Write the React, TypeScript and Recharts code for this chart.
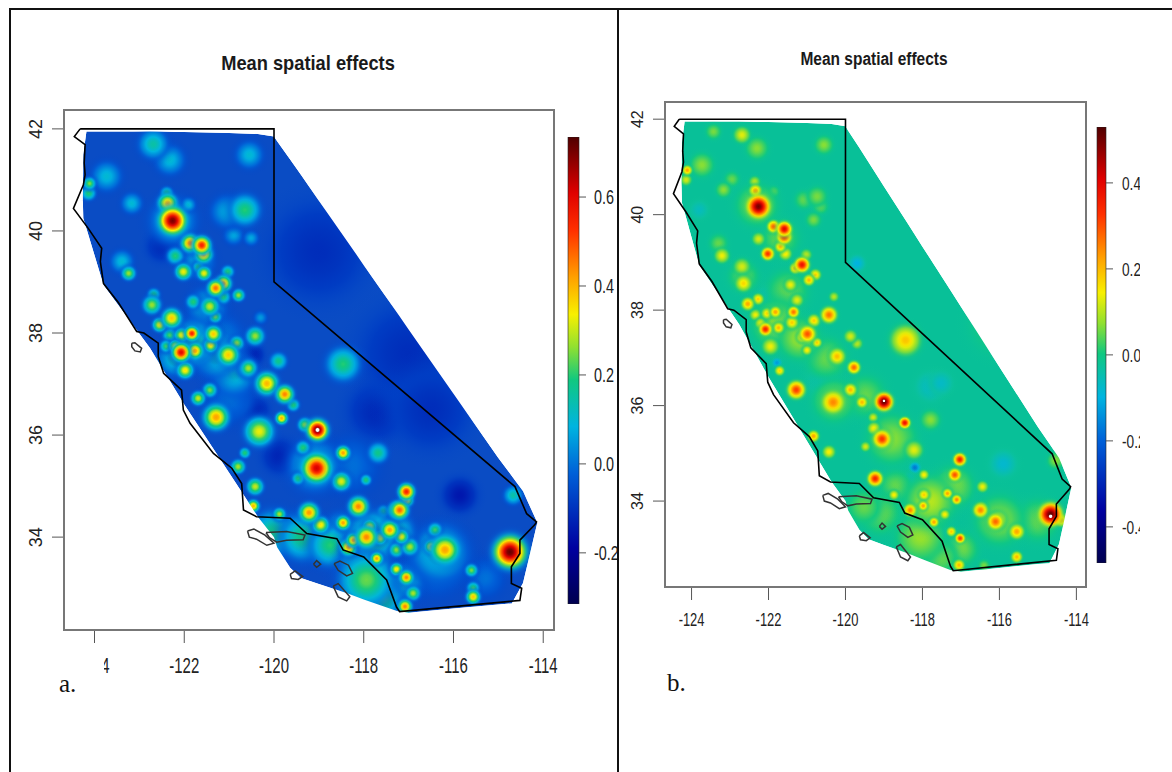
import React from 'react';
import { Area, Bar, ComposedChart, ReferenceArea, Scatter, XAxis, YAxis } from 'recharts';

// longitude, lowest latitude, highest latitude of the modelled mesh
const meshRows = [
  [-124.7, 40.6, 40.6], [-124.26, 40.6, 40.6], [-124.25, 40.25, 41.5], [-124.18, 40.05, 41.95],
  [-123.8, 38.94, 41.95], [-122.76, 37.7, 41.95], [-122, 36.6, 41.94], [-121, 35.26, 41.92],
  [-120.36, 34.4, 41.9], [-120, 34.0, 41.85], [-119.93, 33.8, 41.76], [-119.64, 33.4, 41.4],
  [-119.4, 33.2, 41.1], [-119, 33.08, 40.59], [-118.37, 32.9, 39.8], [-118, 32.78, 39.33],
  [-117.26, 32.55, 38.4], [-117, 32.52, 38.07], [-116, 32.6, 36.81], [-115, 32.68, 35.55],
  [-114.7, 32.7, 35.2], [-114.45, 33.1, 34.9], [-114.14, 34.25, 34.3], [-114.13, 34.27, 34.27],
  [-113.7, 34.27, 34.27],
];

const coastline = [
  [-124.32, 42], [-124.45, 41.85], [-124.21, 41.69], [-124.23, 41.33], [-124.21, 41.1], [-124.25, 40.9],
  [-124.47, 40.44], [-124.14, 40.05], [-123.84, 39.66], [-123.87, 39.4], [-123.8, 38.97], [-123.47, 38.6],
  [-123.06, 38.03], [-122.9, 38], [-122.58, 37.8], [-122.58, 37.54], [-122.46, 37.21], [-122.06, 36.88],
  [-122.02, 36.49], [-121.87, 36.23], [-121.35, 35.64], [-120.94, 35.35], [-120.72, 35.05], [-120.68, 34.53],
  [-120.39, 34.4], [-119.64, 34.37], [-119.27, 34.07], [-118.6, 33.97], [-118.46, 33.75], [-118, 33.61],
  [-117.49, 33.16], [-117.27, 32.63], [-117.2, 32.54], [-114.52, 32.76], [-114.48, 33], [-114.71, 33.09],
  [-114.71, 33.42], [-114.52, 33.68], [-114.52, 33.94], [-114.19, 34.24], [-114.15, 34.3], [-114.37, 34.46],
  [-114.63, 34.99], [-120, 39], [-120, 42], [-124.32, 42],
];

const islands = [
  [[-123.17, 37.8], [-123.1, 37.81], [-122.95, 37.7], [-122.98, 37.63], [-123.1, 37.65], [-123.17, 37.73], [-123.17, 37.8]],
  [[-120.59, 34.12], [-120.45, 34.16], [-120.2, 34.04], [-120, 33.88], [-120.16, 33.84], [-120.39, 33.96], [-120.55, 34], [-120.59, 34.12]],
  [[-120.18, 34.09], [-119.72, 34.11], [-119.31, 34.04], [-119.35, 33.95], [-119.72, 33.94], [-119.94, 33.9], [-120.1, 33.99], [-120.18, 34.09]],
  [[-119.12, 33.47], [-119.05, 33.54], [-118.96, 33.47], [-119.05, 33.41], [-119.12, 33.47]],
  [[-118.66, 33.48], [-118.53, 33.53], [-118.34, 33.45], [-118.25, 33.29], [-118.38, 33.24], [-118.57, 33.35], [-118.66, 33.48]],
  [[-119.64, 33.27], [-119.53, 33.34], [-119.36, 33.23], [-119.46, 33.17], [-119.61, 33.19], [-119.64, 33.27]],
  [[-118.68, 33.04], [-118.57, 33.09], [-118.31, 32.83], [-118.38, 32.75], [-118.57, 32.83], [-118.68, 33.04]],
];

// lon, lat, peak effect, spread in degrees
const effectsA = [
  [-117.7, 36.46, -0.12, 0.6], [-115.86, 34.82, -0.15, 0.35], [-119.87, 35.58, -0.13, 0.35], [-120.46, 37.57, -0.14, 0.2],
  [-120.4, 36.49, -0.13, 0.25], [-117, 37.6, -0.11, 1.0], [-116.5, 36.5, -0.11, 0.8], [-119, 39.6, -0.11, 1.0], [-122.5, 39.7, -0.12, 0.3],
  [-116.4, 33.5, 0.02, 0.7], [-118.3, 35.4, 0, 0.6], [-115.3, 33.2, 0, 0.4], [-121, 36.7, 0, 0.5], [-121.3, 37.8, 0.08, 0.6],
  [-121.8, 37.8, 0.17, 0.5], [-121.3, 37.6, 0.15, 0.5], [-122.2, 37.5, 0.15, 0.35], [-120.9, 37.2, 0.12, 0.45], [-121.5, 38.5, 0.1, 0.4],
  [-117.8, 34, 0.22, 0.55], [-117.3, 34.1, 0.18, 0.4], [-118.5, 34.1, 0.15, 0.4], [-119.1, 35.4, 0.12, 0.55], [-117.1, 33.1, 0.12, 0.4],
  [-116.3, 33.7, 0.15, 0.6], [-121.7, 39.4, 0.07, 0.35], [-122.25, 40.2, 0.1, 0.5],
  [-120.01, 34.07, 0.2, 0.5], [-119.35, 34, 0.2, 0.5], [-118.75, 33.84, 0.2, 0.45], [-117.94, 33.16, 0.24, 0.6], [-117.57, 32.8, 0.23, 0.4], [-118.16, 33.55, 0.2, 0.35],
  [-122.69, 41.7, 0.15, 0.3], [-122.32, 41.39, 0.1, 0.3], [-123.73, 41.07, 0.1, 0.3], [-120.55, 41.49, 0.1, 0.27], [-124.11, 40.93, 0.25, 0.11],
  [-124.13, 40.74, 0.2, 0.13], [-123.17, 40.54, 0.1, 0.2], [-122.37, 40.54, 0.4, 0.2], [-122.39, 40.74, 0.2, 0.11], [-122.26, 40.2, 0.7, 0.3],
  [-121.91, 40.51, 0.1, 0.13], [-120.65, 40.41, 0.2, 0.33], [-121.05, 40.38, 0.08, 0.33], [-121.87, 39.76, 0.45, 0.18], [-121.61, 39.72, 0.55, 0.18],
  [-121.57, 39.55, 0.42, 0.18], [-122.2, 39.51, 0.2, 0.16], [-123.24, 39.17, 0.27, 0.13], [-123.39, 39.4, 0.1, 0.22], [-122.02, 39.2, 0.33, 0.16],
  [-121.56, 39.17, 0.33, 0.13], [-121.68, 39.29, 0.2, 0.11], [-121.03, 39.2, 0.2, 0.11], [-120.9, 39.92, 0.07, 0.18], [-120.51, 39.86, 0.07, 0.13],
  [-121.13, 38.97, 0.42, 0.16], [-121.3, 38.88, 0.47, 0.16], [-120.79, 38.74, 0.27, 0.11], [-121.13, 38.71, 0.2, 0.13], [-121.8, 38.61, 0.2, 0.13],
  [-121.43, 38.52, 0.3, 0.18], [-121.31, 38.32, 0.25, 0.11], [-122.72, 38.55, 0.27, 0.18], [-122.68, 38.75, 0.2, 0.11], [-122.28, 38.29, 0.38, 0.2],
  [-122.55, 38.16, 0.33, 0.13], [-121.83, 37.99, 0.55, 0.13], [-122.06, 37.96, 0.33, 0.13], [-121.35, 37.98, 0.38, 0.16], [-122.32, 37.96, 0.22, 0.13],
  [-121.41, 37.76, 0.35, 0.13], [-122.07, 37.62, 0.6, 0.18], [-121.76, 37.65, 0.42, 0.16], [-122.2, 37.74, 0.35, 0.11], [-122.4, 37.74, 0.22, 0.11],
  [-121.02, 37.57, 0.38, 0.22], [-120.83, 37.8, 0.27, 0.13], [-120.42, 37.94, 0.27, 0.18], [-121.98, 37.27, 0.35, 0.16], [-119.9, 37.45, 0.18, 0.16],
  [-120.6, 37.3, 0.22, 0.18], [-120.3, 38.3, 0.05, 0.11],
  [-120.16, 37.01, 0.4, 0.24], [-119.76, 36.8, 0.45, 0.18], [-120.57, 37.31, 0.28, 0.16], [-121.69, 36.72, 0.3, 0.13], [-121.43, 36.88, 0.25, 0.13],
  [-121.29, 36.35, 0.42, 0.27], [-120.33, 36.07, 0.33, 0.31], [-119.83, 36.33, 0.4, 0.11], [-119.03, 36.1, 0.72, 0.22], [-119.31, 36.2, 0.27, 0.13],
  [-119.57, 36.59, 0.2, 0.11], [-118.46, 37.39, 0.2, 0.36], [-118.46, 35.65, 0.42, 0.13], [-117.68, 35.65, 0.18, 0.2], [-119.05, 35.35, 0.62, 0.31],
  [-119.35, 35.75, 0.2, 0.13], [-118.5, 35.09, 0.32, 0.18], [-119.46, 35.15, 0.2, 0.11], [-117.95, 35.12, 0.2, 0.09], [-120.8, 35.38, 0.28, 0.13],
  [-120.65, 35.65, 0.2, 0.09], [-120.42, 34.99, 0.3, 0.16], [-120.46, 34.61, 0.4, 0.11], [-119.22, 34.48, 0.43, 0.2], [-119.88, 34.45, 0.28, 0.11],
  [-118.96, 34.24, 0.35, 0.16], [-118.12, 34.6, 0.45, 0.2], [-118.46, 34.28, 0.42, 0.13], [-117.94, 34, 0.45, 0.22], [-118.34, 33.8, 0.42, 0.16],
  [-118.23, 33.94, 0.42, 0.13], [-117.42, 34.14, 0.42, 0.18], [-117.71, 33.58, 0.42, 0.11], [-117.27, 34.53, 0.45, 0.16], [-117.64, 33.99, 0.35, 0.13],
  [-117.87, 34.2, 0.36, 0.13], [-117.05, 34.89, 0.55, 0.16], [-117.2, 34.53, 0.48, 0.18], [-117.05, 34.73, 0.4, 0.13], [-116.19, 33.75, 0.42, 0.31],
  [-116.49, 33.81, 0.4, 0.13], [-116.41, 34.14, 0.22, 0.13], [-114.74, 33.71, 0.72, 0.36], [-115.6, 33.35, 0.25, 0.11], [-115.56, 32.83, 0.38, 0.13],
  [-115.56, 33, 0.22, 0.11], [-117.05, 33.21, 0.45, 0.13], [-117.27, 33.37, 0.35, 0.11], [-117.08, 32.64, 0.45, 0.13], [-116.9, 32.9, 0.28, 0.13],
  [-117.16, 34.01, 0.33, 0.13], [-117.56, 34.5, 0.2, 0.11], [-116.97, 33.81, 0.28, 0.16], [-117.27, 33.75, 0.26, 0.13], [-114.67, 34.82, 0.15, 0.18],
  [-119.03, 36.1, 0.9, 0.04],
];

const effectsB = [
  [-117.79, 36.4, -0.07, 0.35], [-115.9, 34.78, -0.08, 0.31], [-119.7, 38.98, -0.1, 0.18], [-122.04, 38.3, -0.06, 0.22], [-117.52, 36.47, -0.07, 0.27],
  [-116, 37.7, 0.02, 0.7], [-120.6, 36.5, -0.05, 0.4], [-123.8, 40.1, -0.06, 0.2],
  [-121.8, 37.7, 0.07, 0.6], [-121.2, 37.4, 0.08, 0.5], [-120.5, 37, 0.05, 0.5], [-121.5, 38.4, 0.05, 0.5], [-121.7, 39.5, 0.05, 0.45],
  [-122.3, 40.2, 0.07, 0.5], [-117.8, 34, 0.1, 0.6], [-117.2, 34.3, 0.07, 0.5], [-118.8, 35.3, 0.07, 0.6], [-116, 33.6, 0.07, 0.6],
  [-115, 33.6, 0.05, 0.5], [-117, 33, 0.06, 0.4], [-118.7, 34.3, 0.05, 0.4], [-122.65, 38.7, 0.05, 0.35], [-119.5, 36.2, 0.05, 0.5], [-120.3, 36.1, 0.07, 0.5],
  [-119.09, 33.74, 0.05, 0.5], [-118.05, 33.25, 0.08, 0.6], [-119.52, 33.88, 0.05, 0.4], [-117.53, 32.83, 0.06, 0.4],
  [-122.69, 41.67, 0.13, 0.18], [-123.43, 41.74, 0.06, 0.16], [-122.3, 41.39, 0.07, 0.25], [-123.73, 41.04, 0.07, 0.27], [-120.56, 41.46, 0.07, 0.2],
  [-124.11, 40.93, 0.22, 0.09], [-124.14, 40.73, 0.12, 0.11], [-123.17, 40.52, 0.07, 0.16], [-122.95, 40.74, 0.05, 0.16], [-122.34, 40.5, 0.22, 0.13],
  [-122.36, 40.69, 0.1, 0.11], [-122.26, 40.17, 0.5, 0.27], [-121.87, 40.48, 0.06, 0.11], [-120.74, 40.38, 0.06, 0.22], [-121.08, 40.31, 0.05, 0.2],
  [-120.65, 40.17, 0.05, 0.16], [-120.83, 39.89, 0.06, 0.16], [-121.87, 39.75, 0.28, 0.13], [-121.59, 39.7, 0.4, 0.16], [-121.59, 39.54, 0.34, 0.16],
  [-122.26, 39.49, 0.12, 0.13], [-122.02, 39.18, 0.33, 0.13], [-121.56, 39.18, 0.15, 0.13], [-121.69, 39.33, 0.2, 0.11], [-123.21, 39.14, 0.14, 0.16],
  [-123.3, 39.4, 0.05, 0.2], [-121.02, 39.16, 0.1, 0.11], [-121.13, 38.95, 0.38, 0.16], [-121.3, 38.88, 0.22, 0.11], [-122.69, 38.91, 0.12, 0.18],
  [-122.65, 38.56, 0.17, 0.18], [-120.95, 38.63, 0.2, 0.11], [-120.78, 38.74, 0.18, 0.11], [-121.43, 38.53, 0.14, 0.13], [-121.48, 38.37, -0.12, 0.09],
  [-121.26, 38.21, 0.13, 0.13], [-120.3, 38.28, 0.1, 0.09], [-122.54, 38.13, 0.22, 0.13], [-122.27, 38.23, 0.18, 0.11], [-120.43, 37.9, 0.27, 0.18],
  [-120.82, 37.78, 0.18, 0.13], [-121.35, 37.96, 0.27, 0.11], [-121.82, 37.96, 0.22, 0.11], [-122.04, 37.93, 0.17, 0.11], [-122.34, 37.9, 0.14, 0.11],
  [-121.39, 37.74, 0.18, 0.13], [-121.74, 37.63, 0.2, 0.11], [-122.08, 37.6, 0.35, 0.13], [-122.2, 37.72, 0.15, 0.11], [-120.99, 37.5, 0.3, 0.18],
  [-121.13, 37.43, 0.22, 0.11], [-120.74, 37.32, 0.18, 0.09], [-121.95, 37.24, 0.14, 0.18], [-121, 37.16, 0.15, 0.09], [-119.87, 37.45, 0.12, 0.13],
  [-120.22, 37.03, 0.2, 0.18], [-119.78, 36.8, 0.28, 0.13], [-119.7, 37.3, 0.1, 0.11], [-118.44, 37.37, 0.19, 0.36], [-121.78, 36.9, -0.13, 0.09],
  [-121.71, 36.73, 0.17, 0.09], [-121.28, 36.33, 0.32, 0.2], [-120.32, 36.07, 0.25, 0.27], [-119.87, 36.33, 0.2, 0.13], [-119.37, 36.33, -0.22, 0.11],
  [-119.57, 36.07, 0.2, 0.11], [-119, 36.08, 0.52, 0.2], [-119.28, 35.75, 0.12, 0.09], [-118.46, 35.64, 0.38, 0.11], [-117.79, 35.7, 0.07, 0.22],
  [-119.05, 35.3, 0.33, 0.2], [-119.26, 35.52, 0.15, 0.13], [-118.22, 35.07, 0.13, 0.2], [-119.48, 35.14, 0.12, 0.09], [-120.83, 35.36, 0.22, 0.11],
  [-120.43, 35.03, 0.15, 0.13], [-118.2, 34.7, -0.18, 0.11], [-118.35, 34.47, -0.08, 0.13], [-119.23, 34.47, 0.35, 0.16], [-118.74, 34.3, -0.13, 0.07],
  [-118.74, 34.13, 0.15, 0.09], [-117.03, 34.87, 0.36, 0.13], [-117.16, 34.55, 0.3, 0.13], [-117.42, 34.51, -0.3, 0.13], [-117.96, 34.55, 0.15, 0.09],
  [-117.35, 34.16, 0.22, 0.09], [-117.11, 34.03, 0.25, 0.09], [-117.96, 34.13, 0.18, 0.11], [-117.98, 33.9, 0.22, 0.09], [-117.47, 33.95, -0.1, 0.09],
  [-118.32, 33.81, 0.25, 0.13], [-117.7, 33.56, 0.22, 0.09], [-117.44, 33.33, -0.08, 0.11], [-117.25, 33.36, 0.18, 0.09], [-117.02, 33.22, 0.32, 0.09],
  [-117.02, 32.97, -0.12, 0.09], [-117.05, 32.66, 0.2, 0.11], [-116.49, 33.81, 0.25, 0.16], [-116.44, 34.3, 0.14, 0.11], [-116.1, 33.57, 0.28, 0.18],
  [-116.33, 33.65, -0.1, 0.07], [-117.42, 33.72, 0.15, 0.09], [-116.4, 32.65, 0.06, 0.11], [-114.67, 33.72, 0.52, 0.27], [-115.55, 33.36, 0.22, 0.16],
  [-116.03, 33.61, 0.22, 0.18], [-116.47, 33.86, 0.17, 0.11], [-115.55, 32.83, 0.2, 0.11], [-114.54, 34.85, 0.07, 0.18], [-114.4, 33.6, 0.22, 0.13],
  [-114.67, 33.68, 0.8, 0.04], [-119, 36.1, 0.8, 0.03],
];

const xTicks = [-124, -122, -120, -118, -116, -114];
const yTicks = [34, 36, 38, 40, 42];
const barTicksA = [-0.2, 0, 0.2, 0.4, 0.6];
const barTicksB = [-0.4, -0.2, 0, 0.2, 0.4];

const jetStops: [number, string][] = [
  [0, '#00004f'], [0.12, '#0000a0'], [0.28, '#0060d8'], [0.38, '#00b4e0'], [0.48, '#10c880'], [0.55, '#90e030'],
  [0.62, '#f8f000'], [0.7, '#ffa000'], [0.8, '#ff3000'], [0.88, '#e00000'], [1, '#500000'],
];

const hexToRgb = (h: string) => [1, 3, 5].map((i) => parseInt(h.slice(i, i + 2), 16));

const jet = (t: number) => {
  const c = Math.max(0, Math.min(1, t));
  let i = 0;
  while (i < jetStops.length - 2 && jetStops[i + 1][0] < c) i++;
  const [a, ca] = jetStops[i];
  const [b, cb] = jetStops[i + 1];
  const f = (c - a) / (b - a);
  const pa = hexToRgb(ca);
  const pb = hexToRgb(cb);
  return `rgb(${pa.map((v, k) => Math.round(v + (pb[k] - v) * f)).join(',')})`;
};

const ringSteps = [0, 0.1, 0.2, 0.3, 0.4, 0.5, 0.6, 0.7, 0.8, 0.9, 1];

const PeakGradient = ({ id, peak, base, min, max }: any) => (
  <radialGradient id={id}>
    {ringSteps.map((s) => {
      const g = Math.exp(-((s / 0.5) ** 2));
      const value = base + (peak - base) * g;
      const alpha = Math.max(0, Math.min(1, (g - 0.02) / 0.3));
      const color = peak > max ? '#ffffff' : jet((value - min) / (max - min));
      return <stop key={s} offset={s} stopColor={color} stopOpacity={alpha} />;
    })}
  </radialGradient>
);

const toRows = (list: number[][]) => list.map(([lon, lat]) => ({ lon, lat }));

const Panel = ({ name, spots, base, min, max, pxPerDeg, xDomain, yDomain, margin, yWidth, xHeight, width, height, fontX, fontY, labelDrop, fieldFill }: any) => {
  const rows = [...spots]
    .sort((a: number[], b: number[]) => a[2] - b[2])
    .map(([lon, lat, peak, spread]: number[]) => ({ lon, lat, peak, spread }));
  const peaks = Array.from(new Set(rows.map((r: any) => r.peak))) as number[];
  const mesh = meshRows.map(([lon, lo, hi]) => ({ lon, mesh: [lo, hi], above: [hi, 42.6], below: [32, lo] }));

  return (
    <ComposedChart width={width} height={height} margin={margin}>
      <defs>
        {peaks.map((p) => (
          <PeakGradient key={p} id={`${name}-${String(p).replace(/[.-]/g, '_')}`} peak={p} base={base} min={min} max={max} />
        ))}
      </defs>
      <XAxis
        dataKey="lon"
        type="number"
        domain={xDomain}
        ticks={xTicks}
        interval={0}
        allowDataOverflow
        height={xHeight}
        stroke="#555"
        tickSize={13}
        tick={({ x, y, payload }: any) => (
          <text transform={`translate(${x},${y + labelDrop}) scale(0.68,1)`} textAnchor="middle" fontFamily="Liberation Sans" fontSize={fontX} fill="#222">
            {payload.value}
          </text>
        )}
      />
      <YAxis
        type="number"
        domain={yDomain}
        ticks={yTicks}
        interval={0}
        allowDataOverflow
        width={yWidth}
        stroke="#555"
        tickSize={12}
        tick={({ x, y, payload }: any) => (
          <text transform={`translate(${x - 8},${y}) rotate(-90)`} textAnchor="middle" fontFamily="Liberation Sans" fontSize={fontY} fill="#222">
            {payload.value}
          </text>
        )}
      />
      <Area data={mesh} dataKey="mesh" type="linear" fill={fieldFill} fillOpacity={1} stroke="none" dot={false} isAnimationActive={false} />
      <Scatter
        data={rows}
        dataKey="lat"
        isAnimationActive={false}
        shape={({ cx, cy, payload }: any) => (
          <circle
            cx={cx}
            cy={cy}
            r={(payload.peak > max ? payload.spread : payload.spread + 0.04) * pxPerDeg}
            fill={`url(#${name}-${String(payload.peak).replace(/[.-]/g, '_')})`}
          />
        )}
      />
      <Area data={mesh} dataKey="above" type="linear" fill="#fff" fillOpacity={1} stroke="none" dot={false} isAnimationActive={false} zIndex={650} />
      <Area data={mesh} dataKey="below" type="linear" fill="#fff" fillOpacity={1} stroke="none" dot={false} isAnimationActive={false} zIndex={650} />
      {islands.map((isle, i) => (
        <Scatter key={i} data={toRows(isle)} dataKey="lat" line={{ stroke: '#333', strokeWidth: 1.5 }} shape={() => null} isAnimationActive={false} zIndex={700} />
      ))}
      <Scatter data={toRows(coastline)} dataKey="lat" line={{ stroke: '#000', strokeWidth: 1.6 }} shape={() => null} isAnimationActive={false} zIndex={710} />
      <ReferenceArea x1={xDomain[0]} x2={xDomain[1]} y1={yDomain[0]} y2={yDomain[1]} fill="none" stroke="#777" strokeWidth={2} fillOpacity={0} zIndex={720} />
    </ComposedChart>
  );
};

const ColorBar = ({ name, min, max, ticks, width, height, margin, axisWidth, fontSize, labelGap }: any) => (
  <ComposedChart width={width} height={height} margin={margin} data={[{ key: 'effect', range: [min, max] }]} barCategoryGap={0}>
    <defs>
      <linearGradient id={`${name}-bar`} x1="0" y1="1" x2="0" y2="0">
        {jetStops.map(([t, c]) => (
          <stop key={t} offset={t} stopColor={c} />
        ))}
      </linearGradient>
    </defs>
    <XAxis dataKey="key" hide />
    <YAxis
      orientation="right"
      type="number"
      domain={[min, max]}
      ticks={ticks}
      interval={0}
      allowDataOverflow
      width={axisWidth}
      stroke="#555"
      axisLine={false}
      tickSize={7}
      tick={({ x, y, payload }: any) => (
        <text transform={`translate(${x + labelGap},${y + fontSize * 0.36}) scale(0.72,1)`} textAnchor="start" fontFamily="Liberation Sans" fontSize={fontSize} fill="#222">
          {payload.value.toFixed(1)}
        </text>
      )}
    />
    <Bar dataKey="range" fill={`url(#${name}-bar)`} stroke="#222" strokeWidth={0.6} isAnimationActive={false} />
  </ComposedChart>
);

const at = (left: number, top: number, extra: any = {}): React.CSSProperties => ({ position: 'absolute', left, top, ...extra });

const Title = ({ x, y, size, scale }: any) => (
  <div
    style={at(x, y, {
      transform: `translateX(-50%) scaleX(${scale})`,
      fontFamily: 'Liberation Sans',
      fontWeight: 700,
      fontSize: size,
      whiteSpace: 'nowrap',
      color: '#1a1a1a',
    })}
  >
    Mean spatial effects
  </div>
);

export default function App() {
  return (
    <div style={{ position: 'fixed', left: 0, top: 0, width: 1172, height: 772, background: '#fff', overflow: 'hidden' }}>
      <div style={at(0, 0)}>
        <Panel
          name="a"
          spots={effectsA}
          base={-0.07}
          min={-0.315}
          max={0.735}
          pxPerDeg={72}
          fieldFill="#0a4cc4"
          xDomain={[-124.68, -113.76]}
          yDomain={[32.18, 42.37]}
          margin={{ left: 24, top: 110, right: 62, bottom: 25 }}
          yWidth={40}
          xHeight={45}
          width={616}
          height={700}
          fontX={22}
          fontY={18}
          labelDrop={28}
        />
      </div>
      <div style={at(618, 0)}>
        <Panel
          name="b"
          spots={effectsB}
          base={-0.02}
          min={-0.484}
          max={0.53}
          pxPerDeg={62}
          fieldFill="#08c098"
          xDomain={[-124.69, -113.75]}
          yDomain={[32.2, 42.36]}
          margin={{ left: 17, top: 102, right: 32, bottom: 73 }}
          yWidth={30}
          xHeight={40}
          width={500}
          height={700}
          fontX={19}
          fontY={16}
          labelDrop={24}
        />
      </div>
      <div style={at(560, 120, { width: 57, height: 500, overflow: 'hidden' })}>
        <ColorBar name="ca" min={-0.315} max={0.735} ticks={barTicksA} width={57} height={500} margin={{ left: 8, top: 17, right: 0, bottom: 16 }} axisWidth={38} fontSize={20} labelGap={6} />
      </div>
      <div style={at(1089, 110, { width: 51, height: 470, overflow: 'hidden' })}>
        <ColorBar name="cb" min={-0.484} max={0.53} ticks={barTicksB} width={51} height={470} margin={{ left: 8, top: 17, right: 0, bottom: 17 }} axisWidth={34} fontSize={19} labelGap={7} />
      </div>
      <Title x={308} y={51} size={21} scale={0.87} />
      <Title x={874} y={49} size={18} scale={0.86} />
      <div style={at(60, 648, { width: 44, height: 34, background: '#fff' })} />
      <div style={at(59, 670, { fontFamily: 'Liberation Serif', fontSize: 25, color: '#111' })}>a.</div>
      <div style={at(667, 669, { fontFamily: 'Liberation Serif', fontSize: 25, color: '#111' })}>b.</div>
      <div style={at(10, 8, { width: 1162, height: 1.5, background: '#111' })} />
      <div style={at(9, 8, { width: 1.5, height: 764, background: '#111' })} />
      <div style={at(617, 8, { width: 1.5, height: 764, background: '#111' })} />
    </div>
  );
}
